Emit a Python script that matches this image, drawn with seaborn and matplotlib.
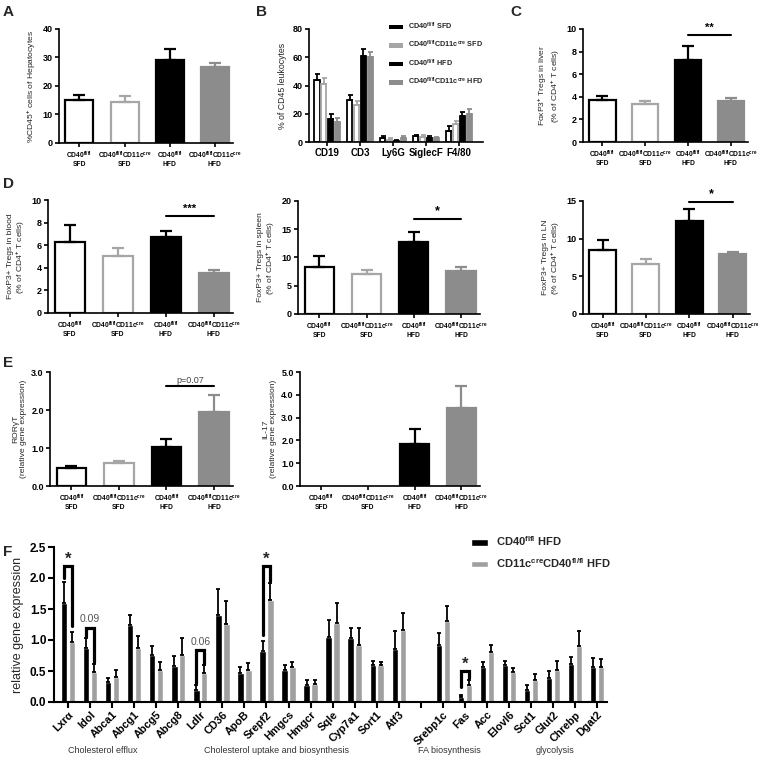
import seaborn as sns
import matplotlib.pyplot as plt
import matplotlib.transforms as mtransforms
from matplotlib.patches import Patch
import numpy as np
import pandas as pd

# groups shared by panels A-E
groups = ["CD40fl/fl SFD", "CD40fl/flCD11ccre SFD", "CD40fl/fl HFD", "CD40fl/flCD11ccre HFD"]
group_ticks = ["CD40$^{fl/fl}$\nSFD", "CD40$^{fl/fl}$CD11c$^{cre}$\nSFD",
               "CD40$^{fl/fl}$\nHFD", "CD40$^{fl/fl}$CD11c$^{cre}$\nHFD"]
group_legend = ["CD40$^{fl/fl}$ SFD", "CD40$^{fl/fl}$CD11c$^{cre}$ SFD",
                "CD40$^{fl/fl}$ HFD", "CD40$^{fl/fl}$CD11c$^{cre}$ HFD"]

# A: CD45+ cells of hepatocytes
a_mean = [15.0, 14.5, 29.0, 26.5]
a_err = [1.8, 1.9, 4.0, 1.5]

# B: leukocyte subsets
cells = ["CD19", "CD3", "Ly6G", "SiglecF", "F4/80"]
b_sfd_ctrl = [44.0, 30.0, 3.0, 4.0, 8.0]
b_sfd_ctrl_err = [4.0, 3.0, 1.2, 1.0, 3.0]
b_sfd_cre = [41.0, 26.3, 1.5, 3.5, 13.0]
b_sfd_cre_err = [4.0, 2.5, 1.0, 1.5, 2.0]
b_hfd_ctrl = [16.0, 61.0, 0.8, 2.5, 18.5]
b_hfd_ctrl_err = [4.0, 4.5, 0.5, 1.5, 2.5]
b_hfd_cre = [14.0, 60.0, 2.5, 2.5, 20.0]
b_hfd_cre_err = [3.0, 3.5, 1.5, 1.0, 3.5]

# C-D: FoxP3+ Tregs
liver_mean = [3.7, 3.35, 7.3, 3.65]
liver_err = [0.4, 0.3, 1.2, 0.2]
blood_mean = [6.3, 5.0, 6.7, 3.5]
blood_err = [1.5, 0.75, 0.6, 0.3]
spleen_mean = [8.4, 7.1, 12.8, 7.6]
spleen_err = [1.8, 0.7, 1.7, 0.7]
ln_mean = [8.5, 6.7, 12.4, 8.0]
ln_err = [1.3, 0.6, 1.5, 0.2]

# E: gene expression
ror_mean = [0.48, 0.60, 1.03, 1.96]
ror_err = [0.05, 0.07, 0.22, 0.44]
il17_mean = [0.0, 0.0, 1.83, 3.42]
il17_err = [0.0, 0.0, 0.67, 0.96]

# F: liver gene panel ("" is the empty slot)
genes = ["Lxrα", "Idol", "Abca1", "Abcg1", "Abcg5", "Abcg8", "Ldlr", "CD36", "ApoB", "Srepf2",
         "Hmgcs", "Hmgcr", "Sqle", "Cyp7a1", "Sort1", "Atf3", "", "Srebp1c", "Fas", "Acc",
         "Elovl6", "Scd1", "Glut2", "Chrebp", "Dgat2"]
f_ctrl = [1.60, 0.87, 0.33, 1.24, 0.76, 0.58, 0.20, 1.40, 0.47, 0.82, 0.52, 0.27, 1.05, 1.03,
          0.59, 0.85, np.nan, 0.92, 0.08, 0.56, 0.59, 0.19, 0.38, 0.61, 0.57]
f_ctrl_err = [0.33, 0.17, 0.06, 0.17, 0.15, 0.16, 0.07, 0.43, 0.09, 0.16, 0.08, 0.08, 0.28, 0.16,
              0.07, 0.29, np.nan, 0.19, 0.04, 0.09, 0.07, 0.08, 0.12, 0.12, 0.14]
f_cre = [0.97, 0.49, 0.41, 0.87, 0.51, 0.76, 0.47, 1.26, 0.51, 1.65, 0.57, 0.29, 1.28, 0.92,
         0.59, 1.16, np.nan, 1.31, 0.27, 0.80, 0.48, 0.35, 0.52, 0.90, 0.56]
f_cre_err = [0.16, 0.13, 0.11, 0.20, 0.13, 0.27, 0.12, 0.37, 0.12, 0.27, 0.08, 0.06, 0.31, 0.27,
             0.05, 0.28, np.nan, 0.24, 0.08, 0.12, 0.07, 0.10, 0.14, 0.25, 0.13]
f_groups = ["CD40$^{flfl}$ HFD", "CD11c$^{cre}$CD40$^{fl/fl}$ HFD"]
# (gene, left leg bottom, bracket top, right leg bottom, label)
f_brackets = [("Lxrα", 2.00, 2.20, 1.22, "*"), ("Idol", 1.06, 1.20, 0.65, "0.09"),
              ("Ldlr", 0.30, 0.84, 0.62, "0.06"), ("Srepf2", 1.08, 2.20, 1.95, "*"),
              ("Fas", 0.24, 0.50, 0.39, "*")]
f_sections = [("Cholesterol efflux", 1.55), ("Cholesterol uptake and biosynthesis", 9.45),
              ("FA biosynthesis", 17.3), ("glycolysis", 22.1)]

sns.set_style("ticks")
plt.rcParams["font.family"] = ["Liberation Sans", "DejaVu Sans"]
plt.rcParams["font.weight"] = "bold"
plt.rcParams["mathtext.fontset"] = "custom"
plt.rcParams["mathtext.bf"] = "Liberation Sans:bold"
plt.rcParams["mathtext.rm"] = "Liberation Sans:bold"
plt.rcParams["mathtext.default"] = "bf"
plt.rcParams["axes.edgecolor"] = "black"
plt.rcParams["xtick.color"] = "black"
plt.rcParams["ytick.color"] = "black"

GRAY = "#8c8c8c"
LIGHT = "#a6a6a6"
faces = ["white", "white", "black", GRAY]
edges = ["black", LIGHT, "black", GRAY]

W, H = 758, 764
fig = plt.figure(figsize=(W / 100, H / 100), dpi=100)


def add_ax(left, top, right, bottom):
    return fig.add_axes([left / W, 1 - bottom / H, (right - left) / W, (bottom - top) / H])


def style_axis(ax, lw=1.2, size=6.5):
    sns.despine(ax=ax)
    for s in ["left", "bottom"]:
        ax.spines[s].set_linewidth(lw)
    ax.tick_params(width=lw, length=3, labelsize=size, pad=1.5)


def four_bars(ax, means, errs, ymax, ystep, ylabel, fmt="{:.0f}", sig=None):
    df = pd.DataFrame({"group": groups, "value": means})
    sns.barplot(data=df, x="group", y="value", color="white", width=0.62,
                errorbar=None, ax=ax)
    style_axis(ax)
    for p, fc, ec, m, e in zip(ax.patches, faces, edges, means, errs):
        p.set_facecolor(fc)
        p.set_edgecolor(ec)
        p.set_linewidth(1.6 if m > 0 else 0)
        if m > 0:
            ax.errorbar(p.get_x() + p.get_width() / 2, m, yerr=[[0], [e]], fmt="none",
                        ecolor=ec, elinewidth=1.6, capsize=4.5, capthick=1.6)
    ticks = np.arange(0, ymax + ystep / 2, ystep)
    ax.set_ylim(0, ymax)
    ax.set_yticks(ticks, labels=[fmt.format(t) for t in ticks])
    ax.set_xlim(-0.45, 3.4)
    ax.set_xticks(range(4))
    ax.set_xticklabels(group_ticks, fontsize=4.8, linespacing=1.0)
    ax.set_xlabel("")
    ax.set_ylabel(ylabel, fontsize=6.1, linespacing=1.1, labelpad=3)
    if sig is not None:
        text, y, color, weight, size = sig
        p3, p4 = ax.patches[2], ax.patches[3]
        x3 = p3.get_x() + p3.get_width() / 2
        x4 = p4.get_x() + p4.get_width() / 2
        ax.plot([x3, x4], [y, y], color="black", lw=1.5)
        ax.text((x3 + x4) / 2, y + ymax * 0.015, text, ha="center", va="bottom",
                color=color, fontweight=weight, fontsize=size)


# panel A
ax_a = add_ax(59, 29, 233, 143)
four_bars(ax_a, a_mean, a_err, 40, 10, "%CD45$^{+}$ cells of Hepatocytes")

# panel B
ax_b = add_ax(309, 29, 483, 142)
b_means = [b_sfd_ctrl, b_sfd_cre, b_hfd_ctrl, b_hfd_cre]
b_errs = [b_sfd_ctrl_err, b_sfd_cre_err, b_hfd_ctrl_err, b_hfd_cre_err]
df_b = pd.DataFrame({"cell": np.tile(cells, 4),
                     "group": np.repeat(groups, len(cells)),
                     "value": np.concatenate(b_means)})
sns.barplot(data=df_b, x="cell", y="value", hue="group", hue_order=groups, order=cells,
            palette=["white"] * 4, width=0.82, gap=0.25, errorbar=None, legend=False, ax=ax_b)
style_axis(ax_b)
for cont, fc, ec, errs in zip(ax_b.containers, faces, edges, b_errs):
    for p, e in zip(cont.patches, errs):
        p.set_facecolor(fc)
        p.set_edgecolor(ec)
        p.set_linewidth(1.3)
        ax_b.errorbar(p.get_x() + p.get_width() / 2, p.get_height(), yerr=[[0], [e]],
                      fmt="none", ecolor=ec, elinewidth=1.3, capsize=1.8, capthick=1.3)
ax_b.set_ylim(0, 80)
ax_b.set_yticks([0, 20, 40, 60, 80])
ax_b.set_xlim(-0.55, 4.73)
ax_b.set_xlabel("")
ax_b.set_ylabel("% of CD45 leukocytes", fontsize=6.3)
ax_b.tick_params(axis="x", labelsize=7)
b_handles = [Patch(facecolor=c, edgecolor="none") for c in ["black", LIGHT, "black", GRAY]]
ax_b.legend(b_handles, group_legend, loc="upper left", bbox_to_anchor=(385 / W, 1 - 17 / H),
            bbox_transform=fig.transFigure, frameon=False, fontsize=5.2, handlelength=2.0,
            handleheight=0.55, labelspacing=1.0, handletextpad=0.7, borderpad=0)

# panel C
ax_c = add_ax(583, 29, 748, 142)
four_bars(ax_c, liver_mean, liver_err, 10, 2,
          "FoxP3$^{+}$ Tregs in liver\n(% of CD4$^{+}$ T cells)",
          sig=("**", 9.5, "black", "bold", 8))

# panel D
ax_d1 = add_ax(48, 200, 233, 313)
four_bars(ax_d1, blood_mean, blood_err, 10, 2,
          "FoxP3+ Tregs in blood\n(% of CD4$^{+}$ T cells)",
          sig=("***", 8.6, "black", "bold", 8))
ax_d2 = add_ax(298, 201, 480, 314)
four_bars(ax_d2, spleen_mean, spleen_err, 20, 5,
          "FoxP3+ Tregs in spleen\n(% of CD4$^{+}$ T cells)",
          sig=("*", 16.9, "black", "bold", 9))
ax_d3 = add_ax(583, 201, 750, 314)
four_bars(ax_d3, ln_mean, ln_err, 15, 5,
          "FoxP3+ Tregs in LN\n(% of CD4$^{+}$ T cells)",
          sig=("*", 14.9, "black", "bold", 9))

# panel E
ax_e1 = add_ax(50, 372, 233, 486)
four_bars(ax_e1, ror_mean, ror_err, 3, 1, "RORγT\n(relative gene expression)",
          fmt="{:.1f}", sig=("p=0.07", 2.62, "#444444", "normal", 6.5))
ax_e2 = add_ax(300, 372, 480, 486)
four_bars(ax_e2, il17_mean, il17_err, 5, 1, "IL-17\n(relative gene expression)", fmt="{:.1f}")

# panel F
ax_f = add_ax(54, 547, 607, 702)
f_means = [f_ctrl, f_cre]
f_errs = [f_ctrl_err, f_cre_err]
df_f = pd.DataFrame({"gene": np.tile(genes, 2),
                     "group": np.repeat(f_groups, len(genes)),
                     "value": np.concatenate(f_means)}).dropna()
sns.barplot(data=df_f, x="gene", y="value", hue="group", hue_order=f_groups, order=genes,
            palette=["black", "#a0a0a0"], width=0.72, gap=0.2, errorbar=None, legend=False,
            ax=ax_f)
style_axis(ax_f, lw=1.5, size=8.5)
ax_f.tick_params(length=4)
centers = []
for cont, errs in zip(ax_f.containers, f_errs):
    pos = {}
    for p in cont.patches:
        xc = p.get_x() + p.get_width() / 2
        i = int(round(xc))
        pos[i] = xc
        ax_f.errorbar(xc, p.get_height(), yerr=[[0], [errs[i]]], fmt="none", ecolor="black",
                      elinewidth=1.3, capsize=1.5, capthick=1.3)
    centers.append(pos)
for gene, lo_l, top, lo_r, label in f_brackets:
    i = genes.index(gene)
    xl, xr = centers[0][i], centers[1][i]
    ax_f.plot([xl, xl, xr, xr], [lo_l, top, top, lo_r], color="black", lw=2.3,
              solid_joinstyle="miter")
    if label == "*":
        ax_f.text((xl + xr) / 2, top - 0.02, "*", ha="center", va="bottom",
                  fontsize=12, fontweight="bold")
    else:
        ax_f.text((xl + xr) / 2, top + 0.05, label, ha="center", va="bottom",
                  fontsize=7.5, fontweight="normal", color="#555555")
ax_f.set_ylim(0, 2.5)
f_ticks = np.arange(0, 2.51, 0.5)
ax_f.set_yticks(f_ticks, labels=["{:.1f}".format(t) for t in f_ticks])
ax_f.set_xlim(-0.64, 24.45)
ax_f.set_xticks(range(len(genes)))
ax_f.set_xticklabels(genes, rotation=45, ha="right", rotation_mode="anchor", fontsize=7.8)
ax_f.set_xlabel("")
ax_f.set_ylabel("relative gene expression", fontsize=9)
trans = mtransforms.blended_transform_factory(ax_f.transData, ax_f.transAxes)
for name, xpos in f_sections:
    ax_f.text(xpos, -0.31, name, transform=trans, ha="center", va="center",
              fontsize=6.5, fontweight="normal", color="#333333")
f_handles = [Patch(facecolor="black"), Patch(facecolor="#a0a0a0")]
ax_f.legend(f_handles, f_groups, loc="upper left", bbox_to_anchor=(465 / W, 1 - 529 / H),
            bbox_transform=fig.transFigure, frameon=False, fontsize=8, handlelength=1.6,
            handleheight=0.55, labelspacing=0.7, handletextpad=0.7, borderpad=0)

# panel letters
for letter, x, y in [("A", 3, 5), ("B", 256, 5), ("C", 510, 5), ("D", 3, 177),
                     ("E", 3, 356), ("F", 3, 545)]:
    fig.text(x / W, 1 - y / H, letter, fontsize=11, fontweight="bold", va="top", ha="left")

fig.savefig("out.png", dpi=100)
